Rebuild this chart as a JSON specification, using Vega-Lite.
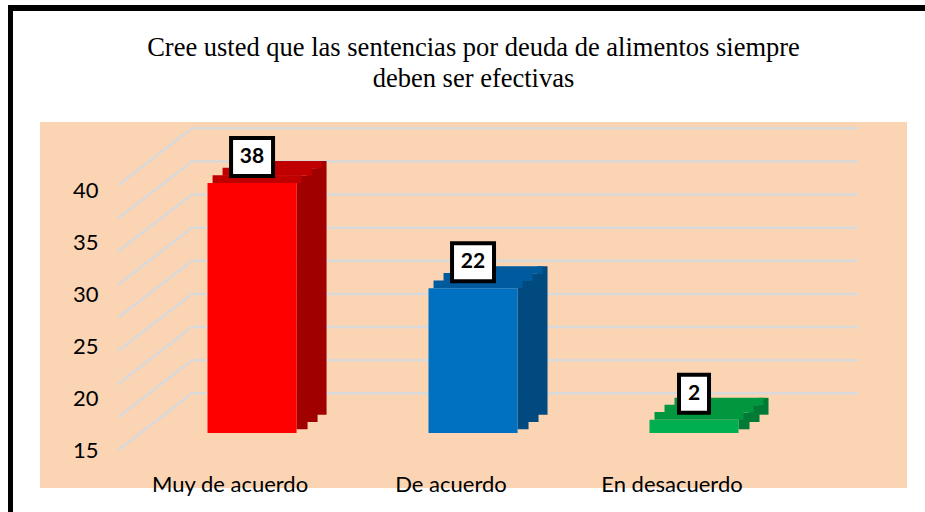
{
  "$schema": "https://vega.github.io/schema/vega-lite/v6.json",
  "background": "white",
  "padding": {"left": 8, "top": 5, "right": 0, "bottom": 0},
  "config": {"view": {"stroke": null}, "font": "Lato"},
  "datasets": {
    "respuestas": [
      {"cat": "Muy de acuerdo", "n": 38},
      {"cat": "De acuerdo", "n": 22},
      {"cat": "En desacuerdo", "n": 2}
    ],
    "grid": [{"g": 0}, {"g": 5}, {"g": 10}, {"g": 15}, {"g": 20}, {"g": 25}, {"g": 30}, {"g": 35}, {"g": 40}],
    "eje": [{"v": 15}, {"v": 40}],
    "titulo": [{"t": "Cree usted que las sentencias por deuda de alimentos siempre\ndeben ser efectivas"}],
    "vacio": []
  },
  "spacing": 0,
  "bounds": "flush",
  "vconcat": [
    {
      "width": 917, "height": 6,
      "view": {"fill": "black", "stroke": null},
      "data": {"name": "vacio"},
      "mark": {"type": "rect", "opacity": 0},
      "encoding": {}
    },
    {
      "spacing": 27,
      "bounds": "flush",
      "hconcat": [
        {
          "width": 5, "height": 501,
          "view": {"fill": "black", "stroke": null},
          "data": {"name": "vacio"},
          "mark": {"type": "rect", "opacity": 0},
          "encoding": {}
        },
        {
          "spacing": 0,
          "bounds": "flush",
          "vconcat": [
            {
              "width": 867, "height": 111,
              "data": {"name": "titulo"},
              "mark": {
                "type": "text", "x": 433.5, "y": 45,
                "align": "center", "baseline": "alphabetic", "lineBreak": "\n", "lineHeight": 31,
                "font": "Liberation Serif", "fontSize": 26.5, "fontWeight": "normal", "color": "black"
              },
              "encoding": {"text": {"field": "t", "type": "nominal"}}
            },
            {
              "spacing": 0,
              "bounds": "flush",
              "hconcat": [
                {
                  "width": 150, "height": 366,
                  "view": {"fill": "#FBD4B4", "stroke": null},
                  "layer": [
                    {
                      "data": {"name": "grid"},
                      "mark": {"type": "rule", "color": "#D9D9D9", "strokeWidth": 2.5, "y2Offset": 57},
                      "encoding": {
                        "x": {"datum": "back", "type": "nominal", "scale": {"type": "point", "domain": ["front", "back"], "range": [78, 152], "padding": 0}, "axis": null},
                        "x2": {"datum": "front"},
                        "y": {"field": "g", "type": "quantitative", "scale": {"domain": [-14.29, 40.95], "nice": false, "zero": false}, "axis": null},
                        "y2": {"field": "g"}
                      }
                    },
                    {
                      "data": {"name": "eje"},
                      "mark": {"type": "point", "opacity": 0},
                      "encoding": {
                        "y": {
                          "field": "v", "type": "quantitative",
                          "scale": {"domain": [11.4, 46.53], "nice": false, "zero": false},
                          "axis": {
                            "orient": "left", "offset": -60, "values": [15, 20, 25, 30, 35, 40],
                            "domain": false, "ticks": false, "tickSize": 0, "grid": false,
                            "labelPadding": 2, "labelFont": "Lato", "labelFontSize": 22, "labelColor": "black",
                            "labelFlush": false, "labelOverlap": false, "labelBound": false, "title": null
                          }
                        }
                      }
                    }
                  ],
                  "resolve": {"scale": {"y": "independent", "x": "independent"}, "axis": {"y": "independent"}}
                },
                {
                  "width": 668, "height": 366,
                  "view": {"fill": "#FBD4B4", "stroke": null},
                  "layer": [
                    {
                      "data": {"name": "grid"},
                      "mark": {"type": "rule", "color": "#D9D9D9", "strokeWidth": 2.5},
                      "encoding": {
                        "y": {"field": "g", "type": "quantitative", "scale": {"domain": [-14.29, 40.95], "nice": false, "zero": false}, "axis": null}
                      }
                    },
                    {
                      "data": {"name": "respuestas"},
                      "encoding": {
                        "x": {
                          "field": "cat", "type": "nominal",
                          "scale": {"type": "band", "domain": ["Muy de acuerdo", "De acuerdo", "En desacuerdo"], "paddingInner": 0.597, "paddingOuter": 0.31, "align": 0.128},
                          "axis": {
                            "orient": "bottom", "title": null, "domain": false, "ticks": false, "tickSize": 0, "grid": false,
                            "labelFont": "Lato", "labelFontSize": 22, "labelColor": "black", "labelPadding": 3,
                            "labelBaseline": "alphabetic", "labelAngle": 0, "labelOffset": -22
                          }
                        },
                        "y": {"field": "n", "type": "quantitative", "scale": {"domain": [-8.36, 47.27], "nice": false, "zero": false}, "axis": null}
                      },
                      "layer": [
                        {
                          "mark": {"type": "bar", "width": 11, "xOffset": 50, "yOffset": -7.3, "y2Offset": -3.7},
                          "encoding": {
                            "y2": {"datum": 0},
                            "color": {"field": "cat", "type": "nominal", "scale": {"domain": ["Muy de acuerdo", "De acuerdo", "En desacuerdo"], "range": ["#A00000", "#004A80", "#007A35"]}, "legend": null}
                          }
                        },
                        {
                          "mark": {"type": "bar", "width": 11, "xOffset": 60, "yOffset": -14.7, "y2Offset": -11},
                          "encoding": {
                            "y2": {"datum": 0},
                            "color": {"field": "cat", "type": "nominal", "scale": {"domain": ["Muy de acuerdo", "De acuerdo", "En desacuerdo"], "range": ["#A00000", "#004A80", "#007A35"]}, "legend": null}
                          }
                        },
                        {
                          "mark": {"type": "bar", "width": 10, "xOffset": 69.5, "yOffset": -22, "y2Offset": -18.3},
                          "encoding": {
                            "y2": {"datum": 0},
                            "color": {"field": "cat", "type": "nominal", "scale": {"domain": ["Muy de acuerdo", "De acuerdo", "En desacuerdo"], "range": ["#A00000", "#004A80", "#007A35"]}, "legend": null}
                          }
                        },
                        {
                          "mark": {"type": "bar", "width": 89, "xOffset": 5, "yOffset": -7.8},
                          "encoding": {
                            "y2": {"field": "n"},
                            "color": {"field": "cat", "type": "nominal", "scale": {"domain": ["Muy de acuerdo", "De acuerdo", "En desacuerdo"], "range": ["#C00000", "#005A9E", "#00973F"]}, "legend": null}
                          }
                        },
                        {
                          "mark": {"type": "bar", "width": 89, "xOffset": 15, "yOffset": -15.2, "y2Offset": -7.3},
                          "encoding": {
                            "y2": {"field": "n"},
                            "color": {"field": "cat", "type": "nominal", "scale": {"domain": ["Muy de acuerdo", "De acuerdo", "En desacuerdo"], "range": ["#C00000", "#005A9E", "#00973F"]}, "legend": null}
                          }
                        },
                        {
                          "mark": {"type": "bar", "width": 89, "xOffset": 25, "yOffset": -22, "y2Offset": -14.6},
                          "encoding": {
                            "y2": {"field": "n"},
                            "color": {"field": "cat", "type": "nominal", "scale": {"domain": ["Muy de acuerdo", "De acuerdo", "En desacuerdo"], "range": ["#C00000", "#005A9E", "#00973F"]}, "legend": null}
                          }
                        },
                        {
                          "mark": {"type": "bar"},
                          "encoding": {
                            "y2": {"datum": 0},
                            "color": {"field": "cat", "type": "nominal", "scale": {"domain": ["Muy de acuerdo", "De acuerdo", "En desacuerdo"], "range": ["#FF0000", "#0070C0", "#00B050"]}, "legend": null}
                          }
                        },
                        {
                          "mark": {"type": "point", "filled": true, "fill": "white", "stroke": "black", "strokeWidth": 4, "size": 1444, "yOffset": -26, "opacity": 1},
                          "encoding": {
                            "shape": {
                              "condition": {"test": "datum.n >= 10", "value": "M-1.105,-1L1.105,-1L1.105,1L-1.105,1Z"},
                              "value": "M-0.79,-1L0.79,-1L0.79,1L-0.79,1Z"
                            }
                          }
                        },
                        {
                          "mark": {"type": "text", "font": "Lato", "fontSize": 21, "fontWeight": "bold", "color": "black", "baseline": "middle", "yOffset": -26},
                          "encoding": {"text": {"field": "n", "type": "quantitative"}}
                        }
                      ],
                      "resolve": {"scale": {"color": "independent"}}
                    }
                  ],
                  "resolve": {"scale": {"y": "independent"}}
                },
                {
                  "width": 49, "height": 366,
                  "view": {"fill": "#FBD4B4", "stroke": null},
                  "data": {"name": "vacio"},
                  "mark": {"type": "rect", "opacity": 0},
                  "encoding": {}
                }
              ]
            }
          ]
        }
      ]
    }
  ]
}
